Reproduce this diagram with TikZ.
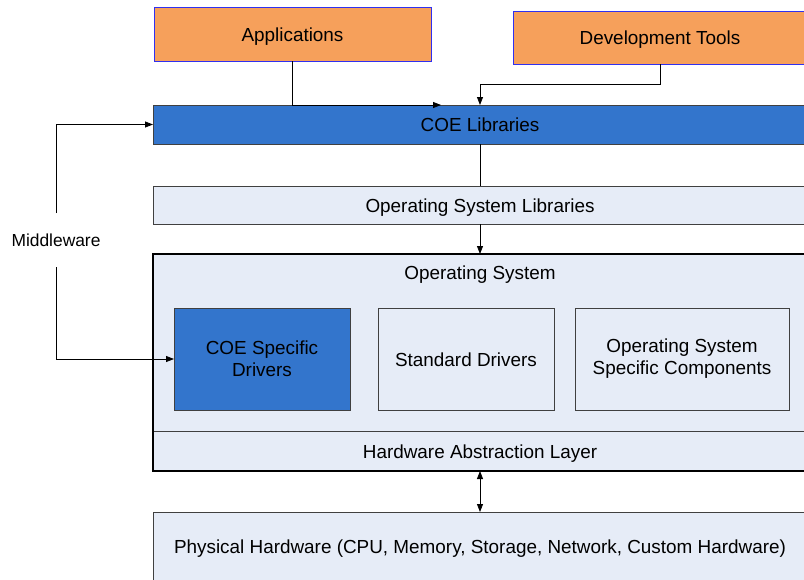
\documentclass[tikz,border=0pt]{standalone}
\usepackage{fontspec}
\setmainfont{Liberation Sans}
\usetikzlibrary{arrows.meta}
\definecolor{orangefill}{HTML}{F6A05B}
\definecolor{bluefill}{HTML}{3375CC}
\definecolor{lightfill}{HTML}{E6ECF7}
\definecolor{edgegray}{HTML}{404040}
\definecolor{edgeblue}{HTML}{3030F0}
\begin{document}
\begin{tikzpicture}[x=1pt,y=-1pt,
  every node/.style={font=\fontsize{18.9}{22}\selectfont, text=black, inner sep=0pt, outer sep=0pt},
  oneline/.style={text height=17pt, text depth=3pt},
  topbox/.style={rectangle, oneline, fill=orangefill, draw=edgeblue, line width=0.8pt, anchor=north west},
  layer/.style={rectangle, oneline, fill=lightfill, draw=edgegray, line width=0.9pt, anchor=north west},
  coebox/.style={rectangle, fill=bluefill, draw=edgegray, line width=0.9pt, anchor=north west},
  inbox/.style={rectangle, fill=lightfill, draw=edgegray, line width=0.9pt, anchor=north west, align=center},
  arr/.style={-{Triangle[length=8pt,width=6pt]}, line width=0.8pt, draw=black},
  conn/.style={line width=0.8pt, draw=black}]
\useasboundingbox (0,0) rectangle (804,579);
\clip (0,0) rectangle (804,579);
\fill[white] (0,0) rectangle (804,579);

% top boxes
\node[topbox, minimum width=277pt, minimum height=54pt] (app) at (154,7) {Applications};
\node[topbox, minimum width=294pt, minimum height=53pt] (dev) at (513,11) {Development Tools};

% layers
\node[coebox, oneline, minimum width=654pt, minimum height=39pt] (coe) at (153,105) {COE Libraries};
\node[layer, minimum width=654pt, minimum height=38pt] (oslib) at (153,186) {Operating System Libraries};

% operating system
\node[rectangle, fill=lightfill, anchor=north west, minimum width=654pt, minimum height=217pt] (os) at (153,254) {};
\node[oneline] (ostitle) at (480,272) {Operating System};
\node[rectangle, oneline, fill=lightfill, anchor=north west, minimum width=654pt, minimum height=40pt] (hal) at (153,431) {Hardware Abstraction Layer};
\draw[draw=edgegray, line width=0.9pt] (hal.north west) -- (hal.north east);
\node[coebox, align=center, minimum width=176pt, minimum height=102pt] (coed) at (174,308) {COE Specific\\Drivers};
\node[inbox, oneline, minimum width=176pt, minimum height=102pt] (std) at (378,308) {Standard Drivers};
\node[inbox, minimum width=214pt, minimum height=102pt] (ossc) at (575,308) {Operating System\\Specific Components};
\draw[black, line width=1.8pt] (os.north west) rectangle (os.south east);

% physical hardware
\node[layer, minimum width=654pt, minimum height=68pt] (phys) at (153,512) {Physical Hardware (CPU, Memory, Storage, Network, Custom Hardware)};

% middleware
\node[font=\fontsize{17.4}{20}\selectfont, minimum height=54pt] (mw) at (56,240) {Middleware};

% connectors
\coordinate (a1) at (441,105);
\coordinate (a2) at (480,105);
\draw[arr] (app.south) |- (a1);
\draw[arr] (dev.south) -- ++(0,20) -| (a2);
\draw[conn] (coe.south) -- (oslib.north);
\draw[arr] (oslib.south) -- (os.north);
\draw[{Triangle[length=8pt,width=6pt]}-{Triangle[length=8pt,width=6pt]}, line width=0.8pt] (os.south) -- (phys.north);
\draw[arr] (mw.north) |- (coe.west);
\draw[arr] (mw.south) |- (coed.west);
\end{tikzpicture}
\end{document}
